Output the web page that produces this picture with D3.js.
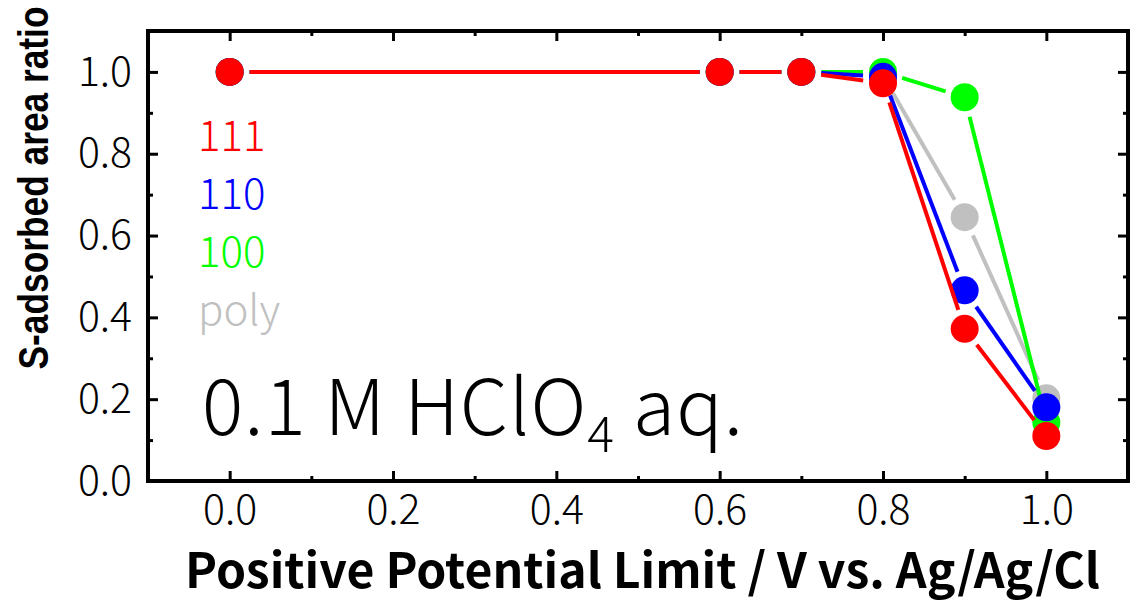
<!DOCTYPE html>
<html>
<head>
<meta charset="utf-8">
<script src="https://cdn.jsdelivr.net/npm/d3@7"></script>
<style>
  body { margin: 0; background: #fff; }
</style>
</head>
<body>
<script>
// values
const potentials = [0.0, 0.6, 0.7, 0.8, 0.9, 1.0];
const ratio111 = [1.0, 1.0, 1.0, 0.972, 0.372, 0.11];
const ratio110 = [1.0, 1.0, 1.0, 0.988, 0.466, 0.18];
const ratio100 = [1.0, 1.0, 1.0, 1.0, 0.938, 0.143];
const ratioPoly = [1.0, 1.0, 1.0, 0.99, 0.645, 0.202];

const seriesNames = ["111", "110", "100", "poly"];
const seriesColors = ["#ff0000", "#0000ff", "#00ff00", "#c0c0c0"];

const xMajor = [0.0, 0.2, 0.4, 0.6, 0.8, 1.0];
const xMinor = [0.1, 0.3, 0.5, 0.7, 0.9];
const yMajor = [0.0, 0.2, 0.4, 0.6, 0.8, 1.0];
const yMinor = [0.1, 0.3, 0.5, 0.7, 0.9];

const W = 1130, H = 600;
const pLeft = 148, pRight = 1128, pTop = 31, pBottom = 481;

const svg = d3.select("body")
  .append("svg")
  .attr("width", W)
  .attr("height", H);

const x = d3.scaleLinear().domain([-0.1, 1.1]).range([pLeft, pRight]);
const y = d3.scaleLinear().domain([0, 1.1]).range([pBottom, pTop]);

const tickFont = "'Noto Sans CJK JP', 'Noto Sans', sans-serif";

// bottom axis
svg.append("g")
  .attr("transform", `translate(0,${pBottom})`)
  .call(d3.axisBottom(x).tickValues(xMajor).tickSize(-10).tickPadding(14)
    .tickFormat(d3.format(".1f")));
svg.append("g")
  .attr("transform", `translate(0,${pBottom})`)
  .call(d3.axisBottom(x).tickValues(xMinor).tickSize(-5).tickFormat(""));
// top axis
svg.append("g")
  .attr("transform", `translate(0,${pTop})`)
  .call(d3.axisTop(x).tickValues(xMajor).tickSize(-10).tickFormat(""));
svg.append("g")
  .attr("transform", `translate(0,${pTop})`)
  .call(d3.axisTop(x).tickValues(xMinor).tickSize(-5).tickFormat(""));
// left axis
svg.append("g")
  .attr("transform", `translate(${pLeft},0)`)
  .call(d3.axisLeft(y).tickValues(yMajor).tickSize(-10).tickPadding(16)
    .tickFormat(d3.format(".1f")));
svg.append("g")
  .attr("transform", `translate(${pLeft},0)`)
  .call(d3.axisLeft(y).tickValues(yMinor).tickSize(-5).tickFormat(""));
// right axis
svg.append("g")
  .attr("transform", `translate(${pRight},0)`)
  .call(d3.axisRight(y).tickValues(yMajor).tickSize(-10).tickFormat(""));
svg.append("g")
  .attr("transform", `translate(${pRight},0)`)
  .call(d3.axisRight(y).tickValues(yMinor).tickSize(-5).tickFormat(""));

svg.selectAll(".domain").remove();
svg.selectAll(".tick line").attr("stroke", "#000").attr("stroke-width", 3);
svg.selectAll(".tick text")
  .style("font-family", tickFont)
  .style("font-weight", "300")
  .style("font-size", "41px")
  .style("fill", "#000");

// frame
svg.append("rect")
  .attr("x", pLeft).attr("y", pTop)
  .attr("width", pRight - pLeft).attr("height", pBottom - pTop)
  .attr("fill", "none")
  .attr("stroke", "#000")
  .attr("stroke-width", 4);

// series, drawn back to front
const allSeries = [ratio111, ratio110, ratio100, ratioPoly];
const r = 14, gap = 20;

for (let s = allSeries.length - 1; s >= 0; s--) {
  const vals = allSeries[s];
  const pts = potentials.map((p, i) => [x(p), y(vals[i])]);
  const g = svg.append("g");
  const segs = d3.pairs(pts).map(([a, b]) => {
    const dx = b[0] - a[0], dy = b[1] - a[1];
    const len = Math.sqrt(dx * dx + dy * dy);
    if (len <= gap * 2) return null;
    const ux = dx / len, uy = dy / len;
    return [a[0] + ux * gap, a[1] + uy * gap, b[0] - ux * gap, b[1] - uy * gap];
  }).filter(d => d);
  g.selectAll("line")
    .data(segs)
    .enter()
    .append("line")
    .attr("x1", d => d[0]).attr("y1", d => d[1])
    .attr("x2", d => d[2]).attr("y2", d => d[3])
    .attr("stroke", seriesColors[s])
    .attr("stroke-width", 4);
  g.selectAll("circle")
    .data(pts)
    .enter()
    .append("circle")
    .attr("cx", d => d[0])
    .attr("cy", d => d[1])
    .attr("r", r)
    .attr("fill", seriesColors[s]);
}

// legend labels
seriesNames.forEach((n, i) => {
  svg.append("text")
    .attr("x", 198)
    .attr("y", 151 + i * 58)
    .text(n)
    .style("font-family", tickFont)
    .style("font-weight", "300")
    .style("font-size", "42px")
    .style("fill", seriesColors[i]);
});

// electrolyte label
const lab = svg.append("text")
  .attr("x", 202)
  .attr("y", 435)
  .attr("textLength", 541)
  .style("font-family", tickFont)
  .style("font-weight", "300")
  .style("font-size", "77px")
  .style("fill", "#000");
lab.append("tspan").text("0.1 M HClO");
lab.append("tspan").text("4").attr("dy", 17).style("font-size", "50px");
lab.append("tspan").text(" aq.").attr("dy", -17);

// axis titles
svg.append("text")
  .attr("x", 185)
  .attr("y", 588)
  .attr("textLength", 915)
  .attr("lengthAdjust", "spacingAndGlyphs")
  .style("font-family", tickFont)
  .style("font-weight", "bold")
  .style("font-size", "48px")
  .style("fill", "#000")
  .text("Positive Potential Limit / V vs. Ag/Ag/Cl");

svg.append("text")
  .attr("transform", "translate(48,188) rotate(-90)")
  .attr("text-anchor", "middle")
  .attr("textLength", 363)
  .attr("lengthAdjust", "spacingAndGlyphs")
  .style("font-family", "'Liberation Sans Narrow', 'Liberation Sans', Arial, sans-serif")
  .style("font-weight", "bold")
  .style("font-size", "43px")
  .style("fill", "#000")
  .text("S-adsorbed area ratio");
</script>
</body>
</html>
